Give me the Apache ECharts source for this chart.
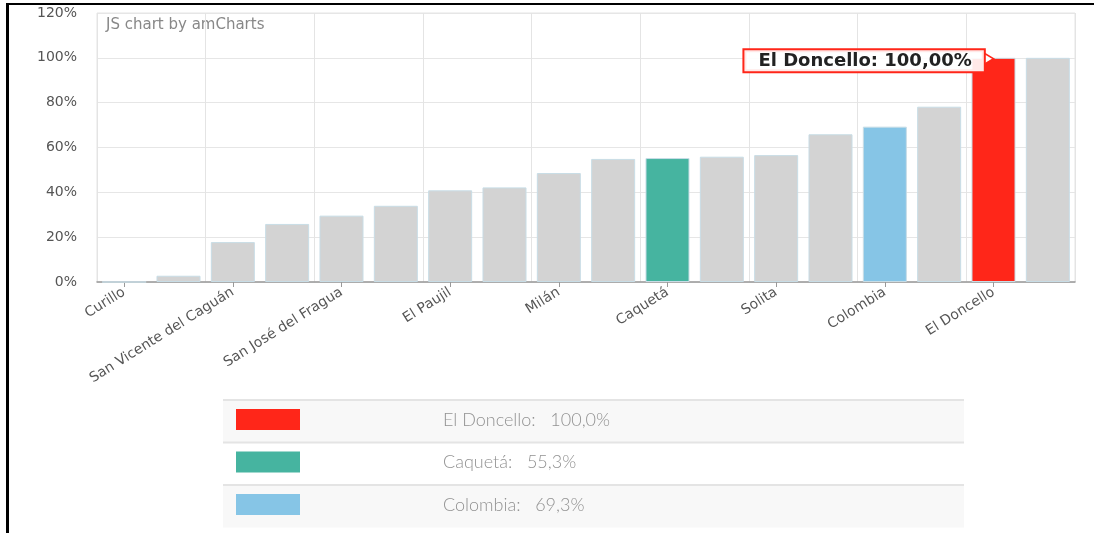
<!DOCTYPE html>
<html>
<head>
<meta charset="utf-8">
<script src="https://cdn.jsdelivr.net/npm/echarts@6/dist/echarts.min.js"></script>
<style>
  html, body { margin: 0; padding: 0; background: #fff; }
  #chart { width: 1094px; height: 533px; }
</style>
</head>
<body>
<div id="chart"></div>
<script>
// Municipalities ordered by indicator value (%)
const categories = [
  'Curillo', 'La Montañita', 'San Vicente del Caguán', 'Puerto Rico',
  'San José del Fragua', 'Florencia', 'El Paujil', 'Belén de los Andaquíes',
  'Milán', 'Cartagena del Chairá', 'Caquetá', 'Morelia',
  'Solita', 'Albania', 'Colombia', 'Valparaíso',
  'El Doncello', 'Solano'
];
const values = [
  0, 2.8, 17.8, 25.9,
  29.6, 34.0, 40.9, 42.2,
  48.6, 54.9, 55.3, 55.9,
  56.6, 65.9, 69.3, 78.2,
  100.0, 100.0
];

// Highlighted entries shown in the legend table
const highlightNames = ['El Doncello', 'Caquetá', 'Colombia'];
const highlightValues = [100.0, 55.3, 69.3];

// Y axis range
const yMin = 0, yMax = 120, yStep = 20;

// Styles
const BAR_GRAY = '#d3d3d3';
const HIGHLIGHT_COLORS = ['#ff2619', '#46b4a0', '#86c5e6'];
const BALLOON_RED = '#ff2619';
const FONT = '"DejaVu Sans", Verdana, sans-serif';
const LEGEND_FONT = 'Lato, "Open Sans", sans-serif';

const fmtComma = (v, d) => v.toFixed(d).replace('.', ',');

const barData = categories.map((name, i) => {
  const h = highlightNames.indexOf(name);
  return {
    value: values[i],
    itemStyle: { color: h >= 0 ? HIGHLIGHT_COLORS[h] : BAR_GRAY }
  };
});

// Balloon on the top highlighted bar
const topName = highlightNames[0];
const topValue = values[categories.indexOf(topName)];

// Legend table drawn as graphic rows
const tableX = 223, tableW = 741, rowH = 42.5, tableY = 400;
const legendGraphics = [];
highlightNames.forEach((name, i) => {
  const y = tableY + i * rowH;
  legendGraphics.push({
    type: 'rect', shape: { x: tableX, y: y, width: tableW, height: rowH },
    style: { fill: i % 2 === 0 ? '#f8f8f8' : '#ffffff' }, silent: true
  });
  legendGraphics.push({
    type: 'line', shape: { x1: tableX, y1: y, x2: tableX + tableW, y2: y },
    style: { stroke: '#e4e4e4', lineWidth: 2 }, silent: true
  });
  legendGraphics.push({
    type: 'rect', shape: { x: 236, y: y + 9, width: 64, height: 21 },
    style: { fill: HIGHLIGHT_COLORS[i] }, silent: true
  });
  legendGraphics.push({
    type: 'text', x: 443, y: y + 20,
    style: {
      text: name + ':   ' + fmtComma(highlightValues[i], 1) + '%',
      font: '300 18px ' + LEGEND_FONT, fill: '#929292',
      verticalAlign: 'middle', align: 'left'
    }, silent: true
  });
});

const chart = echarts.init(document.getElementById('chart'), null, { renderer: 'canvas' });

chart.setOption({
  animation: false,
  backgroundColor: '#fff',
  grid: {
    left: 97, right: 19, top: 13, bottom: 251,
    show: true, borderColor: '#e4e4e4', borderWidth: 1
  },
  xAxis: {
    type: 'category',
    data: categories,
    boundaryGap: true,
    axisLine: { show: true, lineStyle: { color: '#999', width: 1.5 } },
    axisTick: { show: true, interval: 1, alignWithLabel: true, length: 5, lineStyle: { color: '#999' } },
    axisLabel: {
      interval: 1, rotate: 32, margin: 9,
      fontFamily: FONT, fontSize: 14, color: '#555'
    },
    splitLine: { show: true, interval: 1, lineStyle: { color: '#e4e4e4' } }
  },
  yAxis: {
    type: 'value',
    min: yMin, max: yMax, interval: yStep,
    axisLine: { show: false },
    axisTick: { show: false },
    axisLabel: {
      formatter: '{value}%', margin: 20,
      fontFamily: FONT, fontSize: 14, color: '#555'
    },
    splitLine: { show: true, lineStyle: { color: '#e6e6e6' } }
  },
  series: [{
    type: 'bar',
    data: barData,
    barCategoryGap: '19%',
    itemStyle: { borderColor: '#c8dde6', borderWidth: 1 },
    markPoint: {
      silent: true,
      // small pointer at the bar top; the text box sits to its left
      symbol: 'path://M0 0 L10 6 L0 12 Z',
      symbolSize: [10, 12],
      symbolKeepAspect: false,
      symbolOffset: [-5, 1],
      itemStyle: { color: '#fff', borderColor: BALLOON_RED, borderWidth: 1.5 },
      label: {
        show: true, position: 'left', distance: -1, offset: [0, 2],
        fontFamily: FONT, fontWeight: 'bold', fontSize: 18, color: '#222',
        backgroundColor: 'rgba(255,255,255,0.9)',
        borderColor: BALLOON_RED, borderWidth: 2,
        padding: [2, 12, 1, 14],
        formatter: () => topName + ': ' + fmtComma(topValue, 2) + '%'
      },
      data: [{ coord: [topName, topValue] }]
    }
  }],
  graphic: [
    {
      type: 'text', left: 106, top: 18,
      style: { text: 'JS chart by amCharts', font: '15px ' + FONT, fill: '#888' },
      silent: true
    },
    // page frame
    { type: 'rect', shape: { x: 6, y: 3, width: 3, height: 530 }, style: { fill: '#000' }, silent: true },
    { type: 'rect', shape: { x: 6, y: 3, width: 1088, height: 2 }, style: { fill: '#000' }, silent: true },
    ...legendGraphics
  ]
});
</script>
</body>
</html>
